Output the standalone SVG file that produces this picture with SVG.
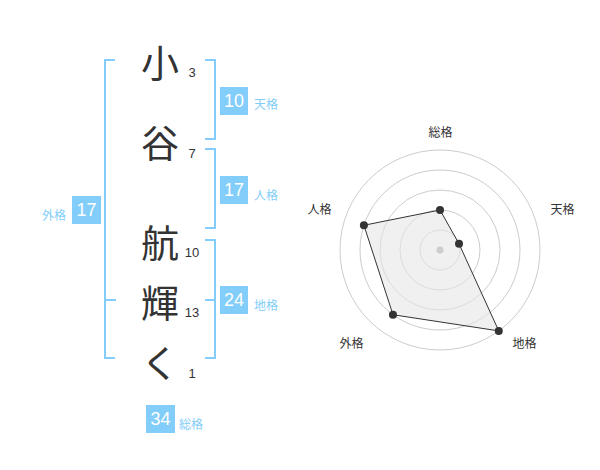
<svg xmlns="http://www.w3.org/2000/svg" width="600" height="470" viewBox="0 0 600 470">
<style>
.br{fill:none;stroke:#82cdf9;stroke-width:2}
.box{fill:#82cdf9}
.bn{font-family:"Liberation Sans",Arial,sans-serif;font-size:18px;fill:#fff;text-anchor:middle;dominant-baseline:central}
.lb{font-family:"Noto Sans CJK JP",sans-serif;font-size:12px;fill:#82cdf9;dominant-baseline:central}
.ch{font-family:"Noto Sans CJK JP",sans-serif;font-size:38px;fill:#333;text-anchor:middle;dominant-baseline:central}
.st{font-family:"Liberation Sans",Arial,sans-serif;font-size:13px;fill:#333;text-anchor:middle}
.ring{fill:none;stroke:#ccc;stroke-width:1}
.rl{font-family:"Noto Sans CJK JP",sans-serif;font-size:12px;fill:#333;text-anchor:middle;dominant-baseline:central}
.pt{fill:#333}
</style>
<rect width="600" height="470" fill="#fff"/>
<g id="connectors">
<path class="br" d="M115,60 H105 V358 H115 M105,300 H116"/>
<path class="br" d="M205,60 H215 V139 H205"/>
<path class="br" d="M205,149 H215 V228 H205"/>
<path class="br" d="M205,240 H215 V358 H205 M205,300 H215"/>
</g>
<g id="char-1"><text class="ch" x="160" y="60">小</text><text class="st" x="192" y="77">3</text></g>
<g id="char-2"><text class="ch" x="160" y="140">谷</text><text class="st" x="192" y="158">7</text></g>
<g id="char-3"><text class="ch" x="160" y="240">航</text><text class="st" x="192" y="257">10</text></g>
<g id="char-4"><text class="ch" x="160" y="300">輝</text><text class="st" x="192" y="317">13</text></g>
<g id="char-5"><text class="ch" x="160" y="360">く</text><text class="st" x="192" y="378">1</text></g>
<g id="tenkaku"><rect class="box" x="220" y="87" width="28" height="28"/><text class="bn" x="234" y="101">10</text><text class="lb" x="254" y="103">天格</text></g>
<g id="jinkaku"><rect class="box" x="220" y="176" width="28" height="28"/><text class="bn" x="234" y="190">17</text><text class="lb" x="254" y="194">人格</text></g>
<g id="chikaku"><rect class="box" x="220" y="286" width="28" height="28"/><text class="bn" x="234" y="300">24</text><text class="lb" x="254" y="304">地格</text></g>
<g id="gaikaku"><rect class="box" x="72" y="196" width="29" height="28"/><text class="bn" x="86.5" y="210">17</text><text class="lb" x="66" y="214" text-anchor="end">外格</text></g>
<g id="soukaku"><rect class="box" x="146" y="405" width="29" height="28"/><text class="bn" x="160.5" y="419">34</text><text class="lb" x="179" y="423">総格</text></g>
<g id="radar">
<circle class="ring" cx="440" cy="250" r="20"/>
<circle class="ring" cx="440" cy="250" r="40"/>
<circle class="ring" cx="440" cy="250" r="60"/>
<circle class="ring" cx="440" cy="250" r="80"/>
<circle class="ring" cx="440" cy="250" r="100"/>
<polygon points="440,210 459.02,243.82 498.78,330.9 392.98,314.72 363.91,225.28" fill="#e6e6e6" fill-opacity="0.6" stroke="#333" stroke-width="1"/>
<circle cx="440" cy="250" r="3.5" fill="#ccc"/>
<circle class="pt" cx="440" cy="210" r="4"/>
<circle class="pt" cx="459.02" cy="243.82" r="4"/>
<circle class="pt" cx="498.78" cy="330.9" r="4"/>
<circle class="pt" cx="392.98" cy="314.72" r="4"/>
<circle class="pt" cx="363.91" cy="225.28" r="4"/>
<text class="rl" x="440.5" y="131">総格</text>
<text class="rl" x="562.5" y="208.5">天格</text>
<text class="rl" x="524.5" y="342.5">地格</text>
<text class="rl" x="351.5" y="342.5">外格</text>
<text class="rl" x="319.5" y="208.5">人格</text>
</g>
</svg>
